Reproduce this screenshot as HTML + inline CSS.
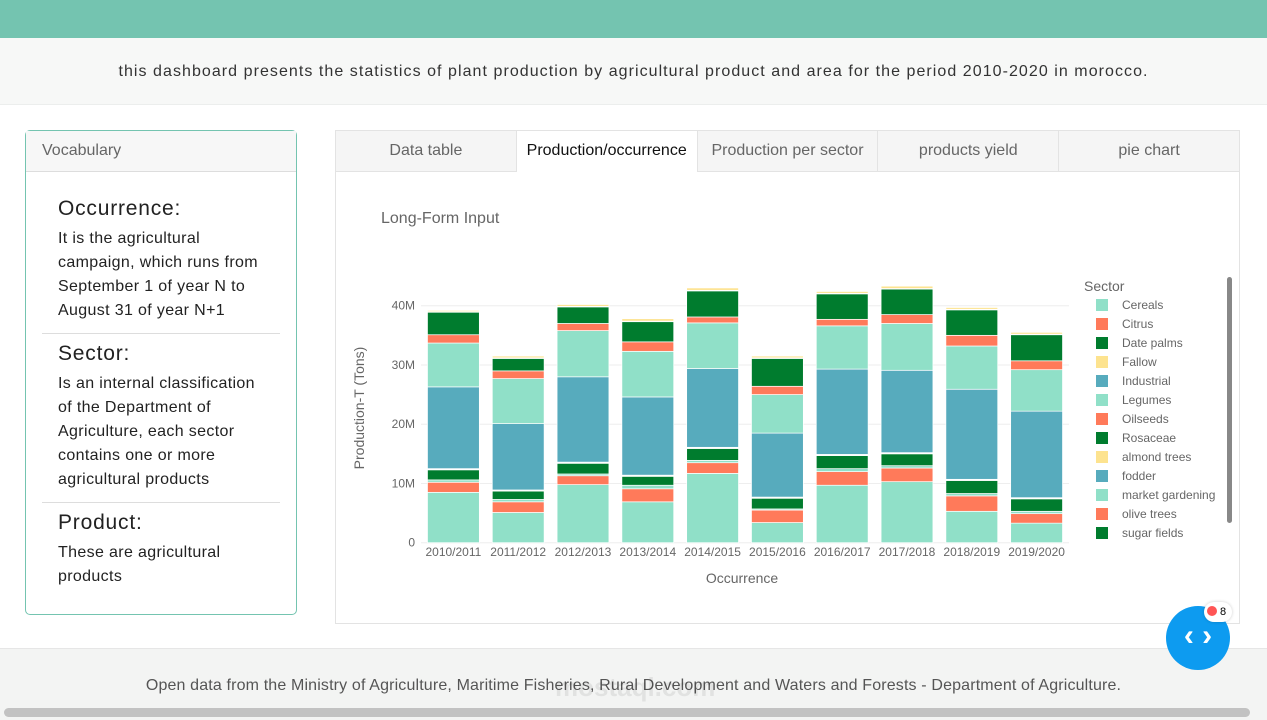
<!DOCTYPE html>
<html><head><meta charset="utf-8">
<style>
*{margin:0;padding:0;box-sizing:border-box}
body{width:1267px;height:720px;overflow:hidden;background:#fff;font-family:"Liberation Sans",sans-serif;position:relative}
.abs{position:absolute}
.vt{font-size:16px;line-height:24px;width:205px;letter-spacing:0.35px}
.vh{font-size:21px;margin-bottom:6px;letter-spacing:0.8px}
</style></head><body>
<div class="abs" style="left:0;top:0;width:1267px;height:38px;background:#74c4b0"></div>
<div class="abs" style="left:0;top:38px;width:1267px;height:67px;background:#f7f8f7;border-bottom:1px solid #eceeed;text-align:center;line-height:67px;font-size:16px;color:#333;letter-spacing:1.05px">this dashboard presents the statistics of plant production by agricultural product and area for the period 2010-2020 in morocco.</div>

<div class="abs" style="left:25px;top:130px;width:272px;height:485px;border:1px solid #74c4b0;border-radius:5px;background:#fff">
  <div style="height:41px;background:#f7f7f7;border-bottom:1px solid #ddd;padding-left:16px;line-height:40px;font-size:16px;color:#666">Vocabulary</div>
  <div style="padding:0 16px;color:#222">
    <div style="border-bottom:1px solid #ddd;padding:25px 0 10px 16px">
      <div class="vh">Occurrence:</div>
      <div class="vt">It is the agricultural campaign, which runs from September 1 of year N to August 31 of year N+1</div>
    </div>
    <div style="border-bottom:1px solid #ddd;padding:8px 0 10px 16px">
      <div class="vh">Sector:</div>
      <div class="vt">Is an internal classification of the Department of Agriculture, each sector contains one or more agricultural products</div>
    </div>
    <div style="padding:8px 0 0 16px">
      <div class="vh">Product:</div>
      <div class="vt" style="width:170px">These are agricultural products</div>
    </div>
  </div>
</div>

<div class="abs" style="left:335px;top:130px;width:905px;height:494px;border:1px solid #e3e3e3;background:#fff"></div>
<div class="abs" style="left:336px;top:131px;width:903px;height:41px;display:flex;font-size:16px;color:#666">
  <div style="flex:1;background:#f5f5f5;border-right:1px solid #e3e3e3;border-bottom:1px solid #e3e3e3;text-align:center;line-height:40px">Data table</div>
  <div style="flex:1;background:#fff;border-right:1px solid #e3e3e3;text-align:center;line-height:40px;color:#111">Production/occurrence</div>
  <div style="flex:1;background:#f5f5f5;border-right:1px solid #e3e3e3;border-bottom:1px solid #e3e3e3;text-align:center;line-height:40px">Production per sector</div>
  <div style="flex:1;background:#f5f5f5;border-right:1px solid #e3e3e3;border-bottom:1px solid #e3e3e3;text-align:center;line-height:40px">products yield</div>
  <div style="flex:1;background:#f5f5f5;border-bottom:1px solid #e3e3e3;text-align:center;line-height:40px">pie chart</div>
</div>

<svg class="abs" id="chart" style="left:0;top:0" width="1267" height="720" font-family="Liberation Sans, sans-serif"></svg>

<div class="abs" style="left:0;top:648px;width:1267px;height:72px;background:#f3f4f3;border-top:1px solid #e6e6e6;text-align:center;padding-top:28px;font-size:16px;color:#555;letter-spacing:0.15px">Open data from the Ministry of Agriculture, Maritime Fisheries, Rural Development and Waters and Forests - Department of Agriculture.</div>
<div class="abs" style="left:555px;top:672px;font-size:26px;color:rgba(0,0,0,0.07);font-weight:bold">mostaql.com</div>
<div class="abs" style="left:4px;top:708px;width:1246px;height:9px;background:#c2c2c2;border-radius:5px"></div>
<div class="abs" style="left:1166px;top:606px;width:64px;height:64px;border-radius:32px;background:#0d9bf0;color:#fff;font-size:30px;text-align:center;line-height:60px;font-weight:bold">‹ ›</div>
<div class="abs" style="left:1204px;top:602px;width:28px;height:20px;border-radius:10px;background:#fff;font-size:11px;line-height:20px;padding-left:3px;box-shadow:0 0 3px rgba(0,0,0,0.2)"><span style="display:inline-block;width:10px;height:10px;border-radius:5px;background:#f55;vertical-align:-1px"></span> 8</div>

<script>
const categories=["2010/2011","2011/2012","2012/2013","2013/2014","2014/2015","2015/2016","2016/2017","2017/2018","2018/2019","2019/2020"];
const sectors=["Cereals","Citrus","Date palms","Fallow","Industrial","Legumes","Oilseeds","Rosaceae","almond trees","fodder","market gardening","olive trees","sugar fields"];
const sectorColors=["#90e0c8","#ff7a5a","#007c2e","#fde38f","#57abbd","#90e0c8","#ff7a5a","#007c2e","#fde38f","#57abbd","#90e0c8","#ff7a5a","#007c2e"];
// values in millions of tons, per sector per year
const cereals=[8.5,5.1,9.8,6.9,11.7,3.4,9.7,10.3,5.3,3.3];
const citrus=[1.7,1.8,1.5,2.2,1.8,2.1,2.3,2.3,2.6,1.6];
const datePalms=[0.1,0.1,0.1,0.1,0.1,0.1,0.1,0.1,0.1,0.1];
const fallow=[0.05,0.05,0.05,0.05,0.05,0.05,0.05,0.05,0.05,0.05];
const industrial=[0.1,0.1,0.1,0.1,0.1,0.1,0.1,0.1,0.1,0.1];
const legumes=[0.4,0.4,0.3,0.6,0.4,0.2,0.5,0.4,0.4,0.4];
const oilseeds=[0.05,0.05,0.05,0.05,0.05,0.05,0.05,0.05,0.05,0.05];
const rosaceae=[1.7,1.4,1.8,1.5,2.0,1.8,2.2,2.0,2.2,2.1];
const almondTrees=[0.2,0.3,0.3,0.4,0.4,0.3,0.3,0.4,0.3,0.3];
const fodder=[13.8,11.2,14.4,13.2,13.3,10.8,14.4,13.9,15.2,14.6];
const marketGardening=[7.4,7.6,7.8,7.7,7.7,6.5,7.3,7.9,7.3,7.0];
const oliveTrees=[1.4,1.3,1.2,1.6,1.0,1.4,1.1,1.5,1.8,1.5];
const sugarFields=[3.8,2.1,2.8,3.4,4.4,4.7,4.3,4.3,4.3,4.4];
const yTicks=[0,10,20,30,40];
const yTickLabels=["0","10M","20M","30M","40M"];
// stacking order as drawn (bottom to top)
const stackSeries=[cereals,citrus,legumes,rosaceae,datePalms,industrial,fodder,marketGardening,oliveTrees,sugarFields,oilseeds,fallow,almondTrees];
const stackColorIdx=[0,1,5,7,2,4,9,10,11,12,6,3,8];

const svg=document.getElementById('chart');
const NS="http://www.w3.org/2000/svg";
function mk(tag,attrs,parent){const e=document.createElementNS(NS,tag);for(const k in attrs)e.setAttribute(k,attrs[k]);(parent||svg).appendChild(e);return e;}
const plotL=421,plotR=1069,plotB=542.7,pxPerM=5.925;
const step=(plotR-plotL)/categories.length;
function xPos(i){return plotL+step*(i+0.5);}
function yPos(v){return plotB-v*pxPerM;}

const title=mk('text',{x:381,y:223,'font-size':16,fill:'#666'});


title.textContent='Long-Form Input';

yTicks.forEach((t,i)=>{
  const g=mk('line',{x1:plotL,x2:plotR,y1:yPos(t),y2:yPos(t),stroke:'#eee','stroke-width':1});
  
  
  const l=mk('text',{x:plotL-6,y:yPos(t)+4,'font-size':12,fill:'#666','text-anchor':'end'});
  
  
  l.textContent=yTickLabels[i];
});

const bw=step*0.8;
categories.forEach((c,i)=>{
  let acc=0;
  stackSeries.forEach((s,k)=>{
    const v=s[i];
    const r=mk('rect',{x:xPos(i)-bw/2,y:yPos(acc+v),width:bw,height:v*pxPerM,fill:sectorColors[stackColorIdx[k]],stroke:'#fff','stroke-width':0.7});
    
    
    acc+=v;
  });
  const l=mk('text',{x:xPos(i),y:556,'font-size':12,fill:'#666','text-anchor':'middle'});
  
  
  l.textContent=c;
});

const xt=mk('text',{x:742,y:583,'font-size':14,fill:'#666','text-anchor':'middle'});


xt.textContent='Occurrence';
const yt=mk('text',{x:364,y:408,'font-size':14,fill:'#666','text-anchor':'middle',transform:'rotate(-90 364 408)'});


yt.textContent='Production-T (Tons)';

const lt=mk('text',{x:1084,y:291,'font-size':14,fill:'#666'});


lt.textContent='Sector';
sectors.forEach((s,i)=>{
  const y=305+i*19;
  const r=mk('rect',{x:1096,y:y-6,width:12,height:12,fill:sectorColors[i]});
  
  
  const t=mk('text',{x:1122,y:y+4,'font-size':12,fill:'#666'});
  
  
  t.textContent=s;
});
const sb=mk('rect',{x:1227,y:277,width:5,height:246,rx:2.5,fill:'#888'});


</script>
</body></html>
